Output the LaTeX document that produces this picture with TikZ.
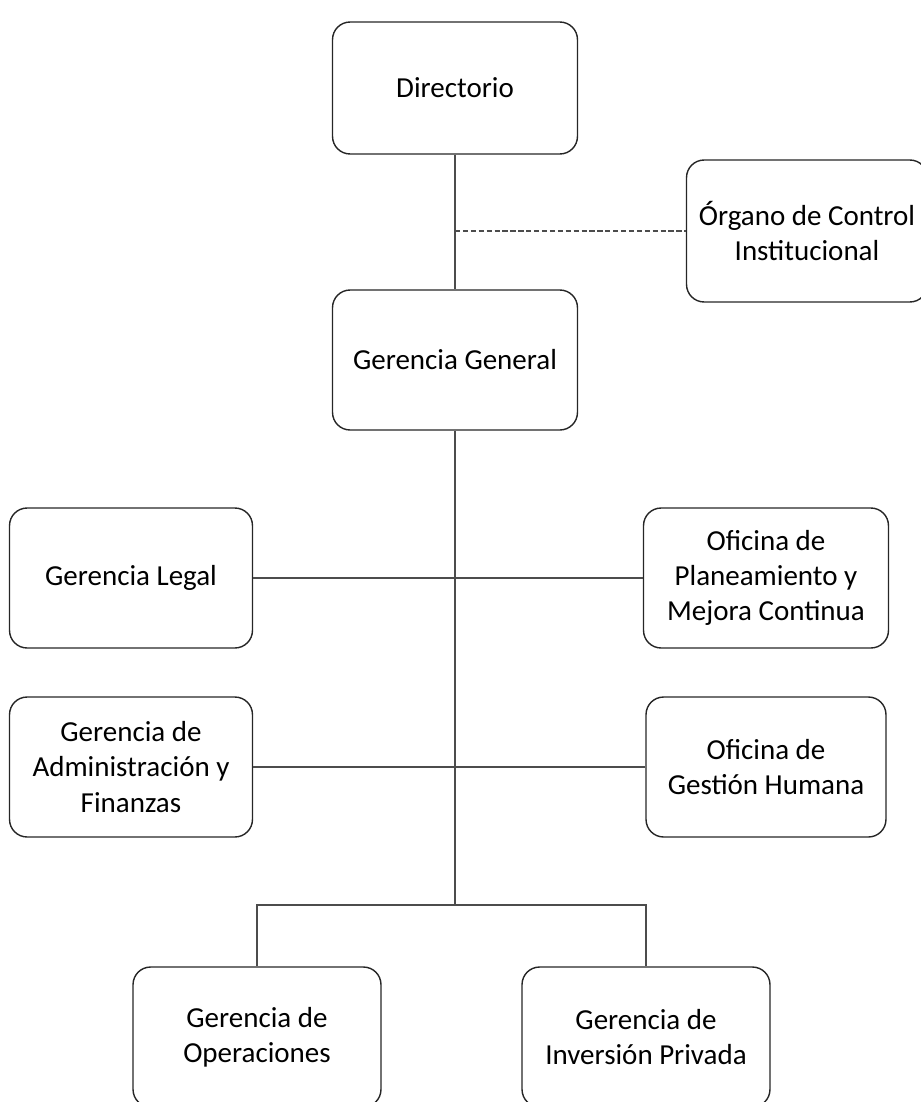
\documentclass[tikz,border=0pt]{standalone}
\usepackage{fontspec}
\setmainfont{Carlito}
\usetikzlibrary{positioning}

\begin{document}
\begin{tikzpicture}[
  x=0.02cm, y=-0.02cm,
  every node/.style={align=center},
  % Units (boxes) - plain, rounded
  unit/.style={rectangle, draw=black!85, line width=0.8pt, rounded corners=10pt, minimum width=4.9cm, minimum height=2.8cm, font=\fontsize{16.5}{20}\selectfont},
  % Links between units
  link/.style={draw=black!70, line width=0.7pt},
  advisory/.style={link, dash pattern=on 3pt off 1.5pt}
]

\useasboundingbox (0,0) rectangle (920,1102);

% === NODES (Units) ===

% Top level
\node[unit, minimum height=2.64cm] (dir) at (455, 88) {Directorio};
\node[unit, minimum width=4.82cm, minimum height=2.84cm] (oci) at (807, 231) {Órgano de Control\\Institucional};
\node[unit] (gg) at (455, 360) {Gerencia General};

% Staff units
\node[unit, minimum width=4.86cm] (legal) at (131, 578) {Gerencia Legal};
\node[unit] (plan) at (766, 578) {Oficina de\\Planeamiento y\\Mejora Continua};
\node[unit, minimum width=4.86cm] (admin) at (131, 767) {Gerencia de\\Administración y\\Finanzas};
\node[unit, minimum width=4.8cm] (rrhh) at (766, 767) {Oficina de\\Gestión Humana};

% Line units
\node[unit, minimum width=4.96cm] (ops) at (257, 1037) {Gerencia de\\Operaciones};
\node[unit, minimum width=4.96cm] (inv) at (646, 1037) {Gerencia de\\Inversión Privada};

% === LINKS ===

\coordinate (ctrl) at (dir.south |- oci.west);
\coordinate (split) at (455, 905);

% Directorio -> Gerencia General, with control office aside
\draw[link] (dir.south) -- (gg.north);
\draw[advisory] (ctrl) -- (oci.west);

% Gerencia General -> staff and line units
\draw[link] (gg.south) -- (split);
\draw[link] (legal.east) -- (plan.west);
\draw[link] (admin.east) -- (rrhh.west);
\draw[link] (ops.north) |- (split) -| (inv.north);

\end{tikzpicture}
\end{document}
